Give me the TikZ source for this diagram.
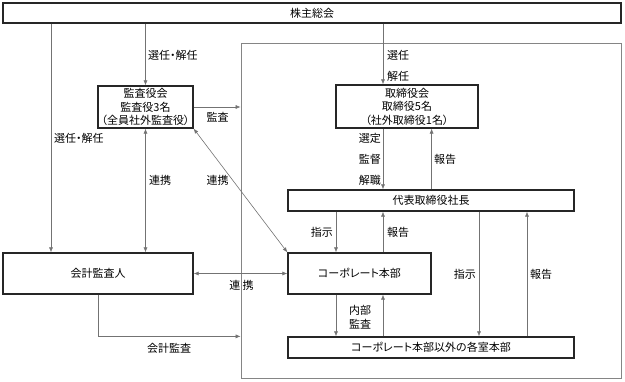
\documentclass[tikz,border=0pt]{standalone}
\usepackage{fontspec}
\setmainfont{Noto Sans CJK JP}[RawFeature=+palt]
\usetikzlibrary{arrows.meta, positioning, calc}
\definecolor{boxline}{HTML}{262626}
\definecolor{linkgray}{HTML}{737373}
\definecolor{framegray}{HTML}{858585}
\tikzstyle{unit} = [rectangle, draw=boxline, line width=1.2pt, fill=white,
                    align=center, inner sep=0pt]
\tikzstyle{arrow} = [-{Latex[length=5pt,width=4pt]}, draw=linkgray, line width=0.6pt]
\tikzstyle{link} = [{Latex[length=5pt,width=4pt]}-{Latex[length=5pt,width=4pt]},
                    draw=linkgray, line width=0.6pt]
\tikzstyle{lbl} = [inner sep=1pt]

\begin{document}
\begin{tikzpicture}[x=1pt, y=-1pt, font=\fontsize{11}{13.5}\selectfont]
    \useasboundingbox (0,0) rectangle (625,382);
    % frame round the executive side
    \node[draw=framegray, line width=0.7pt, minimum width=380pt, minimum height=335pt,
          inner sep=0pt] (exec) at (431,210.5) {};

    \node[unit, minimum width=618pt, minimum height=20pt] (soukai) at (312,13) {株主総会};
    \node[unit, minimum width=95pt, minimum height=42pt] (kansa) at (145.5,107)
        {監査役会\\監査役3名\\（全員社外監査役）};
    \node[unit, minimum width=142pt, minimum height=43pt] (torishimari) at (407,106.5)
        {取締役会\\取締役5名\\（社外取締役1名）};
    \node[unit, minimum width=286pt, minimum height=21pt] (shacho) at (431,200.5) {代表取締役社長};
    \node[unit, minimum width=190pt, minimum height=41pt] (kaikei) at (98,273.5) {会計監査人};
    \node[unit, minimum width=143pt, minimum height=41pt] (corp) at (359.5,273.5) {コーポレート本部};
    \node[unit, minimum width=286pt, minimum height=21pt] (kakushitsu) at (431,347.5)
        {コーポレート本部以外の各室本部};

    % vertical lanes
    \coordinate (lane1) at (51,0);
    \coordinate (lane2) at (336,0);
    \coordinate (lane3) at (383,0);
    \coordinate (lane4) at (479,0);
    \coordinate (lane5) at (527,0);

    \draw[arrow] (soukai.south -| lane1) -- (kaikei.north -| lane1);
    \draw[arrow] (soukai.south -| kansa) -- (kansa.north);
    \draw[arrow] (soukai.south -| lane3) -- (torishimari.north -| lane3);
    \draw[arrow] (kansa.east) -- (kansa.east -| exec.west);
    \draw[link] (kansa.south) -- (kaikei.north -| kansa.south);
    \draw[link] (kansa.south east) -- (corp.north west);
    \draw[link] (kaikei.east) -- (corp.west);
    \draw[arrow] (kaikei.south) |- (kakushitsu.north -| exec.west);

    \draw[arrow] (torishimari.south -| lane3) -- (shacho.north -| lane3);
    \draw[arrow] (shacho.north -| corp.east) -- (torishimari.south -| corp.east);
    \draw[arrow] (shacho.south -| lane2) -- (corp.north -| lane2);
    \draw[arrow] (corp.north -| lane3) -- (shacho.south -| lane3);
    \draw[arrow] (shacho.south -| lane4) -- (kakushitsu.north -| lane4);
    \draw[arrow] (kakushitsu.north -| lane5) -- (shacho.south -| lane5);
    \draw[arrow] (corp.south -| lane2) -- (kakushitsu.north -| lane2);
    \draw[arrow] (kakushitsu.north -| lane3) -- (corp.south -| lane3);

    % labels
    \node[lbl, right] (selA) at (147,55) {選任・解任};
    \node[lbl, right] (selB) at (53,138) {選任・解任};
    \node[lbl, right] (selC) at (386,55) {選任};
    \node[lbl, right] (disC) at (386,76) {解任};
    \node[lbl] (audA) at (217.5,117) {監査};
    \node[lbl, right] (coopA) at (148,180) {連携};
    \node[lbl] (coopB) at (217.5,180) {連携};
    \node[lbl, left] (pick) at (382,138) {選定};
    \node[lbl, left] (watch) at (382,159) {監督};
    \node[lbl, left] (fire) at (382,180) {解職};
    \node[lbl, right] (repA) at (433,159) {報告};
    \node[lbl, left] (ordA) at (334,232) {指示};
    \node[lbl, right] (repB) at (386,232) {報告};
    \node[lbl, left] (ordB) at (477,274) {指示};
    \node[lbl, right] (repC) at (529,274) {報告};
    \node[lbl, align=center] (inner) at (360,317) {内部\\監査};
    \node[lbl] (coopC) at (241.5,285) {連 携};
    \node[lbl] (audB) at (169,348) {会計監査};
\end{tikzpicture}
\end{document}
